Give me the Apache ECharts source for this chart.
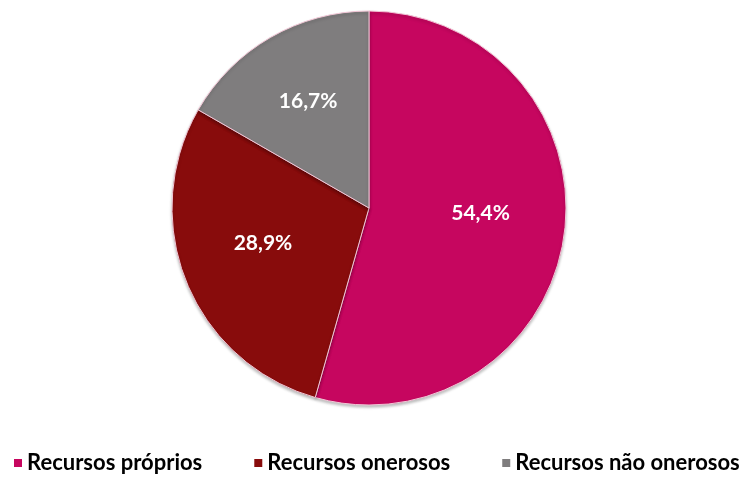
<!DOCTYPE html>
<html>
<head>
<meta charset="utf-8">
<script src="https://cdn.jsdelivr.net/npm/echarts@6/dist/echarts.min.js"></script>
<style>
  html, body { margin: 0; padding: 0; background: #fff; }
  #chart { width: 742px; height: 477px; }
</style>
</head>
<body>
<div id="chart"></div>
<script>
// dados do gráfico
var categories = ['Recursos próprios', 'Recursos onerosos', 'Recursos não onerosos']
var values = [54.4, 28.9, 16.7]
var colors = ['#C6065F', '#880C0C', '#7F7D7E']
// pequenos ajustes na posição dos rótulos
var labelOffsets = [[11, -9], [-12, -3], [-10, -19]]

var chart = echarts.init(document.getElementById('chart'))

var seriesData = categories.map(function (name, i) {
  return {
    name: name,
    value: values[i],
    itemStyle: { color: colors[i] },
    label: { offset: labelOffsets[i] }
  }
})

chart.setOption({
  animation: false,
  legend: {
    top: 452,
    left: 14,
    padding: 0,
    icon: 'rect',
    itemWidth: 8,
    itemHeight: 8,
    itemGap: 52,
    itemStyle: { borderWidth: 0 },
    textStyle: {
      fontFamily: 'Lato',
      fontWeight: 'bold',
      fontSize: 22,
      color: '#000'
    },
    data: categories
  },
  series: [{
    type: 'pie',
    center: [369, 208],
    radius: 197,
    startAngle: 90,
    clockwise: true,
    itemStyle: {
      borderColor: '#f2c6d6',
      borderWidth: 1,
      shadowColor: 'rgba(0,0,0,0.25)',
      shadowBlur: 3,
      shadowOffsetY: 2
    },
    label: {
      position: 'inside',
      formatter: function (p) {
        return p.value.toFixed(1).replace('.', ',') + '%'
      },
      fontFamily: 'Lato',
      fontWeight: 'bold',
      fontSize: 21,
      color: '#fff'
    },
    labelLine: { show: false },
    emphasis: { disabled: true },
    data: seriesData
  }]
})
</script>
</body>
</html>
